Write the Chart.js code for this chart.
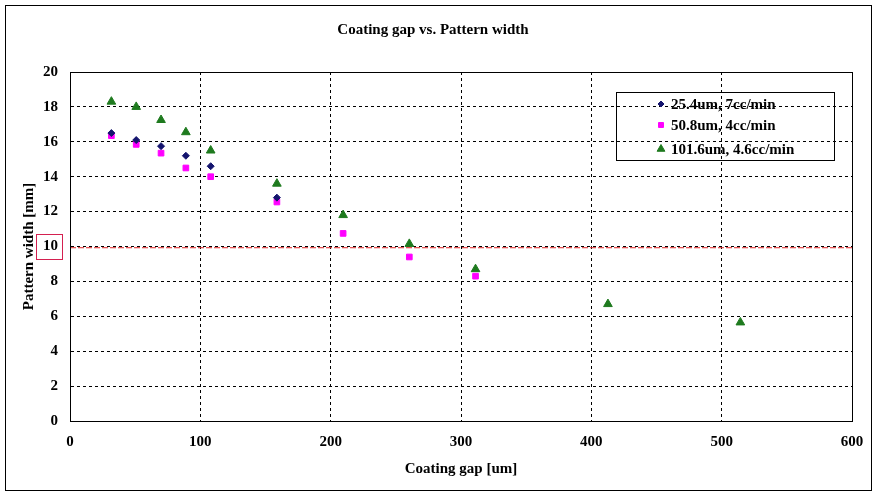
<!DOCTYPE html>
<html>
<head>
<meta charset="utf-8">
<script src="https://cdn.jsdelivr.net/npm/chart.js@4.4.1/dist/chart.umd.min.js"></script>
<style>
    html, body { margin: 0; padding: 0; background: #ffffff; }
    #wrap { width: 878px; height: 497px; }
</style>
</head>
<body>
<div id="wrap"><canvas id="chart" width="878" height="497"></canvas></div>
<script>
// Data ------------------------------------------------------------------------------------

var SERIES_NAMES = ['25.4um, 7cc/min', '50.8um, 4cc/min', '101.6um, 4.6cc/min'];

var GAP_25 = [31.75, 50.8, 69.85, 88.9, 107.95, 158.75];
var WIDTH_25 = [16.5, 16.1, 15.75, 15.2, 14.6, 12.8];

var GAP_50 = [31.75, 50.8, 69.85, 88.9, 107.95, 158.75, 209.55, 260.35, 311.15];
var WIDTH_50 = [16.35, 15.85, 15.35, 14.5, 14.0, 12.55, 10.75, 9.4, 8.3];

var GAP_101 = [31.75, 50.8, 69.85, 88.9, 107.95, 158.75, 209.55, 260.35, 311.15, 412.75, 514.35];
var WIDTH_101 = [18.3, 18.0, 17.25, 16.55, 15.5, 13.6, 11.8, 10.15, 8.7, 6.7, 5.65];

var LIMIT_GAP = [0, 600];
var LIMIT_WIDTH = [9.93, 9.93];

var X_TICKS = [0, 100, 200, 300, 400, 500, 600];
var Y_TICKS = [0, 2, 4, 6, 8, 10, 12, 14, 16, 18, 20];

// Constants ------------------------------------------------------------------------------

var FONT_FAMILY = '"Liberation Serif", "Times New Roman", serif';
var FONT_SIZE = 15;
var COLORS = ['#14146e', '#ff00ff', '#1e7a1e'];
var STYLES = ['rectRot', 'rect', 'triangle'];
var RADII = [3.5, 4, 5];

function toPoints(xs, ys) {
    return xs.map(function (x, i) { return { x: x, y: ys[i] }; });
}

// Plugins --------------------------------------------------------------------------------

var framePlugin = {
    id: 'frame',
    afterDraw: function (chart) {
        var ctx = chart.ctx;
        var area = chart.chartArea;
        ctx.save();
        ctx.strokeStyle = '#000000';
        ctx.lineWidth = 1;
        ctx.setLineDash([]);
        ctx.strokeRect(5.5, 5.5, 866, 485);
        ctx.strokeRect(Math.round(area.left) + 0.5, Math.round(area.top) + 0.5,
            Math.round(area.right - area.left), Math.round(area.bottom - area.top));

        // red box around the 10 tick label
        var y10 = chart.scales.y.getPixelForValue(10);
        ctx.strokeStyle = '#d42050';
        ctx.strokeRect(36.5, Math.round(y10) - 12.5, 26, 25);

        // legend
        ctx.strokeStyle = '#000000';
        ctx.strokeRect(616.5, 92.5, 218, 68);
        var rows = [104, 125, 149];
        ctx.font = 'bold ' + FONT_SIZE + 'px ' + FONT_FAMILY;
        ctx.textBaseline = 'middle';
        ctx.textAlign = 'left';
        for (var i = 0; i < SERIES_NAMES.length; i++) {
            ctx.fillStyle = COLORS[i];
            ctx.strokeStyle = COLORS[i];
            Chart.helpers.drawPoint(ctx, {
                pointStyle: STYLES[i],
                radius: RADII[i] - 0.5,
                borderWidth: 1,
                rotation: 0
            }, 661, rows[i]);
            ctx.fillStyle = '#000000';
            ctx.fillText(SERIES_NAMES[i], 671, rows[i] + 1);
        }
        ctx.restore();
    }
};

// Chart ----------------------------------------------------------------------------------

var datasets = [
    [GAP_25, WIDTH_25],
    [GAP_50, WIDTH_50],
    [GAP_101, WIDTH_101]
].map(function (pair, i) {
    return {
        label: SERIES_NAMES[i],
        data: toPoints(pair[0], pair[1]),
        showLine: false,
        pointStyle: STYLES[i],
        pointRadius: RADII[i],
        pointHoverRadius: RADII[i],
        backgroundColor: COLORS[i],
        borderColor: COLORS[i],
        borderWidth: 1
    };
});

datasets.unshift({
    label: 'limit',
    data: toPoints(LIMIT_GAP, LIMIT_WIDTH),
    showLine: true,
    pointRadius: 0,
    borderColor: '#e02828',
    borderWidth: 1,
    borderDash: [6, 2],
    fill: false
});

Chart.defaults.font.family = FONT_FAMILY;
Chart.defaults.color = '#000000';

new Chart(document.getElementById('chart').getContext('2d'), {
    type: 'scatter',
    data: { datasets: datasets },
    plugins: [framePlugin],
    options: {
        responsive: false,
        animation: false,
        events: [],
        layout: { padding: { left: 14, right: 26, top: 0, bottom: 10 } },
        plugins: {
            legend: { display: false },
            tooltip: { enabled: false },
            title: {
                display: true,
                text: 'Coating gap vs. Pattern width',
                font: { size: FONT_SIZE, weight: 'bold' },
                color: '#000000',
                padding: { top: 21, bottom: 33 }
            }
        },
        scales: {
            x: {
                type: 'linear',
                min: 0,
                max: 600,
                afterBuildTicks: function (scale) {
                    scale.ticks = X_TICKS.map(function (v) { return { value: v }; });
                },
                afterFit: function (scale) { scale.height = 66; },
                ticks: { font: { size: FONT_SIZE, weight: 'bold' }, padding: 12, maxRotation: 0 },
                grid: { color: '#000000', drawTicks: false, lineWidth: 1 },
                border: { display: true, color: '#000000', dash: [3, 3] },
                title: {
                    display: true,
                    text: 'Coating gap [um]',
                    font: { size: FONT_SIZE, weight: 'bold' },
                    padding: { top: 0, bottom: 9 }
                }
            },
            y: {
                type: 'linear',
                min: 0,
                max: 20,
                afterBuildTicks: function (scale) {
                    scale.ticks = Y_TICKS.map(function (v) { return { value: v }; });
                },
                afterFit: function (scale) { scale.width = 56; },
                ticks: { font: { size: FONT_SIZE, weight: 'bold' }, padding: 12 },
                grid: { color: '#000000', drawTicks: false, lineWidth: 1 },
                border: { display: true, color: '#000000', dash: [3, 3] },
                title: {
                    display: true,
                    text: 'Pattern width [mm]',
                    font: { size: FONT_SIZE, weight: 'bold' },
                    padding: { top: 6, bottom: 0 }
                }
            }
        }
    }
});
</script>
</body>
</html>
